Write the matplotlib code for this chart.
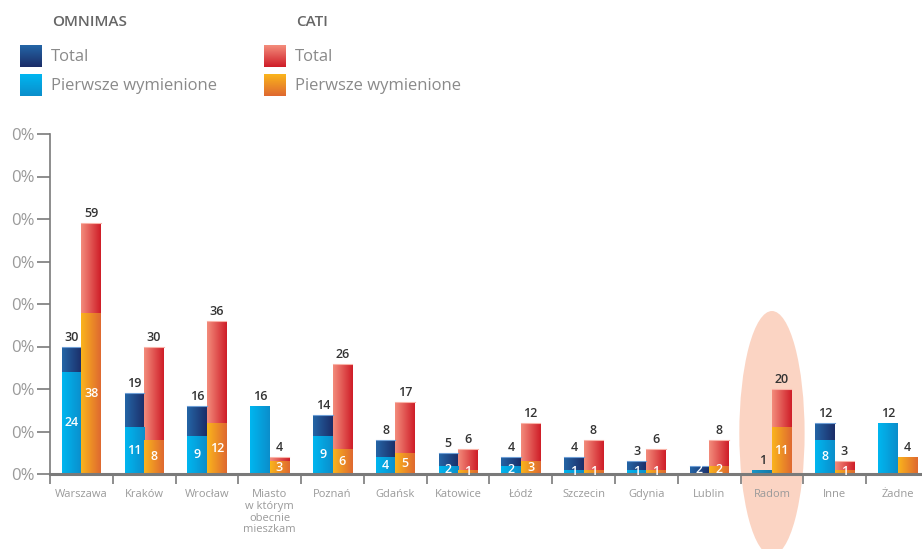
import numpy as np
import matplotlib
matplotlib.use("Agg")
import matplotlib.pyplot as plt
from matplotlib.colors import LinearSegmentedColormap
from matplotlib.patches import Ellipse

plt.rcParams['font.family'] = ['Open Sans', 'DejaVu Sans']

categories = ["Warszawa", "Kraków", "Wrocław", "Miasto\nw którym\nobecnie\nmieszkam",
              "Poznań", "Gdańsk", "Katowice", "Łódź", "Szczecin", "Gdynia",
              "Lublin", "Radom", "Inne", "Żadne"]
nan = np.nan
omni_total = [30, 19, 16, nan, 14, 8, 5, 4, 4, 3, 2, 1, 12, nan]
omni_first = [24, 11, 9, 16, 9, 4, 2, 2, 1, 1, 2, nan, 8, 12]
cati_total = [59, 30, 36, 4, 26, 17, 6, 12, 8, 6, 8, 20, 3, nan]
cati_first = [38, 8, 12, 3, 6, 5, 1, 3, 1, 1, 2, 11, 1, 4]
yticks = [0, 10, 20, 30, 40, 50, 60, 70, 80]
ytick_labels = ["0%"] * 9
highlight = "Radom"

C_DARK = ("#2465a6", "#1b2d68")
C_LIGHT = ("#00b6f0", "#0b8ecb")
C_MID = ("#1a96c8", "#1579a8")
C_RED = ("#f38c7b", "#cf1d28")
C_ORANGE = ("#fab41c", "#df6930")
GREY = "#7a7a7a"

W, H = 922, 549
fig = plt.figure(figsize=(W / 100, H / 100), dpi=100)
ax = fig.add_axes([50 / W, 75 / H, 872 / W, 340 / H])

x = np.arange(len(categories))
bw = 0.31
off = 0.155


def grad(patch, cols, z):
    x0, y0 = patch.get_x(), patch.get_y()
    w, h = patch.get_width(), patch.get_height()
    if not np.isfinite(h) or h <= 0:
        return
    cmap = LinearSegmentedColormap.from_list("g", list(cols))
    im = ax.imshow(np.linspace(0, 1, 64).reshape(1, -1), cmap=cmap,
                   extent=[x0, x0 + w, y0, y0 + h], aspect='auto',
                   interpolation='bilinear', zorder=z)
    im.set_clip_path(patch)


def arr(v):
    return np.array(v, dtype=float)


ot, of, ct, cf = arr(omni_total), arr(omni_first), arr(cati_total), arr(cati_first)

# first-mention segment only where it is below total or total missing
of_draw = np.where(np.isnan(ot) | (of < ot), of, np.nan)
cf_draw = np.where(np.isnan(ct) | (cf < ct), cf, np.nan)

b1 = ax.bar(x - off, np.nan_to_num(ot), bw, color=C_DARK[1], zorder=2, linewidth=0)
for i, p in enumerate(b1):
    cols = C_MID if np.isnan(of[i]) else C_DARK
    grad(p, cols, 2.1)
    if np.isfinite(ot[i]) and not np.isnan(of[i]):
        ax.plot([p.get_x(), p.get_x() + bw], [ot[i], ot[i]], color="#6f9fd6", lw=0.8, zorder=2.3)
b2 = ax.bar(x - off, np.nan_to_num(of_draw), bw, color=C_LIGHT[1], zorder=3, linewidth=0)
for p in b2:
    grad(p, C_LIGHT, 3.1)
b3 = ax.bar(x + off, np.nan_to_num(ct), bw, color=C_RED[1], zorder=2, linewidth=0)
for i, p in enumerate(b3):
    grad(p, C_RED, 2.1)
    if np.isfinite(ct[i]):
        ax.plot([p.get_x(), p.get_x() + bw], [ct[i], ct[i]], color="#f9b3a8", lw=0.8, zorder=2.3)
b4 = ax.bar(x + off, np.nan_to_num(cf_draw), bw, color=C_ORANGE[1], zorder=3, linewidth=0)
for p in b4:
    grad(p, C_ORANGE, 3.1)

# highlight ellipse
hi = categories.index(highlight)
ax.add_patch(Ellipse((hi, 9.6), width=1.04, height=57.5, facecolor="#fbd4c3",
                     edgecolor="none", zorder=0.5, clip_on=False))

lab_kw = dict(ha='center', fontsize=9, fontweight='semibold')
for xs, tot, first in ((x - off, ot, of), (x + off, ct, cf)):
    for i in range(len(categories)):
        t, f = tot[i], first[i]
        if np.isfinite(t):
            if np.isfinite(f) and f >= t:
                ax.text(xs[i], f / 2, f"{int(f)}", va='center', color='white', zorder=5, **lab_kw)
            else:
                ax.annotate(f"{int(t)}", (xs[i], t), xytext=(0, 2), textcoords='offset points',
                            va='bottom', color='#333333', zorder=5, **lab_kw)
                if np.isfinite(f):
                    ax.text(xs[i], f / 2, f"{int(f)}", va='center', color='white', zorder=5, **lab_kw)
        elif np.isfinite(f):
            ax.annotate(f"{int(f)}", (xs[i], f), xytext=(0, 2), textcoords='offset points',
                        va='bottom', color='#333333', zorder=5, **lab_kw)

ax.set_xlim(-0.5, 13.39)
ax.set_ylim(0, 80)

ax.set_yticks(yticks)
ax.set_yticklabels(ytick_labels)
ax.tick_params(axis='y', length=9.5, width=1.2, color=GREY, pad=1.5,
               labelsize=12, labelcolor="#9a9a9a")

ax.set_xticks(x)
ax.set_xticklabels(categories, fontsize=8, color="#9a9a9a", linespacing=1.08)
ax.tick_params(axis='x', which='major', length=0, pad=11)
ax.set_xticks(np.arange(-0.5, 13, 1), minor=True)
ax.tick_params(axis='x', which='minor', length=7.5, width=1.2, color=GREY)

for s in ('top', 'right'):
    ax.spines[s].set_visible(False)
ax.spines['left'].set_color(GREY)
ax.spines['left'].set_linewidth(1.2)
ax.spines['bottom'].set_color(GREY)
ax.spines['bottom'].set_linewidth(2.2)
ax.spines['bottom'].set_zorder(4)

# legend
def square(px, py, cols):
    a = fig.add_axes([px / W, 1 - (py + 22) / H, 22 / W, 22 / H])
    cmap = LinearSegmentedColormap.from_list("g", list(cols))
    a.imshow(np.linspace(0, 1, 32).reshape(-1, 1), cmap=cmap, aspect='auto')
    a.axis('off')

leg_txt = dict(fontsize=12, color="#8a8a8a", va='center')
fig.text(52 / W, 1 - 22 / H, "OMNIMAS", fontsize=11, color="#666666", va='center', fontweight='semibold')
fig.text(296 / W, 1 - 22 / H, "CATI", fontsize=11, color="#666666", va='center', fontweight='semibold')
square(20, 45, C_DARK)
square(20, 74, C_LIGHT)
square(264, 45, C_RED)
square(264, 74, C_ORANGE)
fig.text(51 / W, 1 - 57 / H, "Total", **leg_txt)
fig.text(51 / W, 1 - 86 / H, "Pierwsze wymienione", **leg_txt)
fig.text(295 / W, 1 - 57 / H, "Total", **leg_txt)
fig.text(295 / W, 1 - 86 / H, "Pierwsze wymienione", **leg_txt)

fig.savefig("out.png", dpi=100)
